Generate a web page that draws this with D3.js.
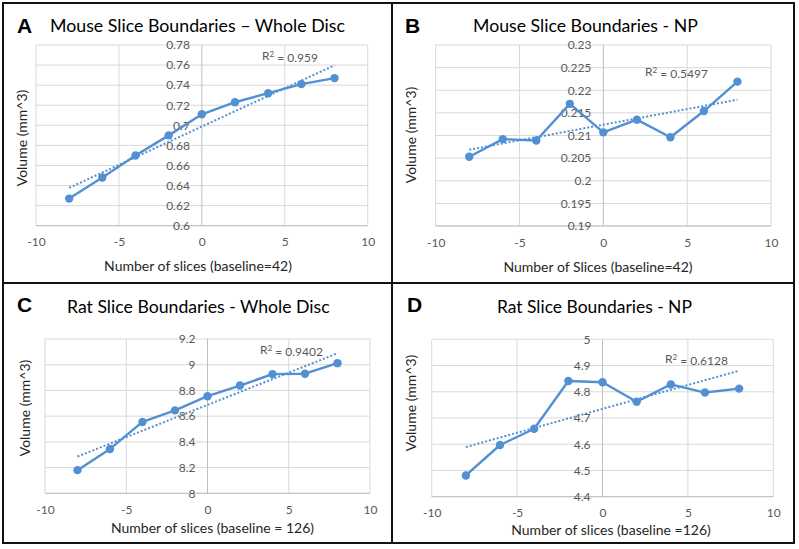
<!DOCTYPE html>
<html><head><meta charset="utf-8">
<script src="https://cdn.jsdelivr.net/npm/d3@7"></script>
<style>body{margin:0;background:#fff}svg{display:block}</style>
</head><body>
<svg id="c" width="799" height="549"></svg>
<script>
// ---- data ----
const slices = [-8,-6,-4,-2,0,2,4,6,8];
const mouseWhole = [0.627,0.648,0.670,0.690,0.711,0.723,0.732,0.741,0.747];
const mouseNP = [0.2053,0.2092,0.2089,0.2170,0.2107,0.2135,0.2096,0.2154,0.2219];
const ratWhole = [8.18,8.345,8.555,8.645,8.755,8.838,8.927,8.93,9.012];
const ratNP = [4.481,4.597,4.659,4.841,4.836,4.762,4.828,4.797,4.812];
const xTicks = [-10,-5,0,5,10];
const yTicksMouseWhole = [0.6,0.62,0.64,0.66,0.68,0.7,0.72,0.74,0.76,0.78];
const yTicksMouseNP = [0.19,0.195,0.2,0.205,0.21,0.215,0.22,0.225,0.23];
const yTicksRatWhole = [8,8.2,8.4,8.6,8.8,9,9.2];
const yTicksRatNP = [4.4,4.5,4.6,4.7,4.8,4.9,5];
const letters = ["A","B","C","D"];
const titles = ["Mouse Slice Boundaries \u2013 Whole Disc","Mouse Slice Boundaries - NP","Rat Slice Boundaries - Whole Disc","Rat Slice Boundaries - NP"];
const xTitles = ["Number of slices (baseline=42)","Number of Slices (baseline=42)","Number of slices (baseline = 126)","Number of slices (baseline =126)"];
const yTitle = "Volume (mm^3)";
const r2Labels = ["0.959","0.5497","0.9402","0.6128"];

const series = [mouseWhole, mouseNP, ratWhole, ratNP];
const yTickSets = [yTicksMouseWhole, yTicksMouseNP, yTicksRatWhole, yTicksRatNP];

// ---- layout ----
const layout = [
  {x0:36, x1:367.7, y0:45, y1:225.7, lx:17, ly:33, tx:50, ty:32, tw:295, xtx:198, xty:271, ytx:22, yty:138, rx:262, ry:56},
  {x0:435.7, x1:771, y0:45, y1:226, lx:405, ly:33, tx:473, ty:32, tw:225, xtx:598, xty:272, ytx:411, yty:135, rx:645, ry:72},
  {x0:45, x1:370, y0:339, y1:493.3, lx:17, ly:312, tx:67, ty:313, tw:263, xtx:212.5, xty:533, ytx:25, yty:408, rx:260, ry:350},
  {x0:431.7, x1:773.3, y0:339.3, y1:496.7, lx:407, ly:312, tx:497, ty:313, tw:195, xtx:611, xty:535, ytx:411, yty:403, rx:665, ry:359}
];

const svg = d3.select("#c");
const FONT = "Lato, 'Open Sans', sans-serif";
const BLUE = "#5290d3";
const GRID = "#d9d9d9";
const TXT = "#595959";

// frame
svg.append("rect").attr("x",3).attr("y",3).attr("width",791).attr("height",540)
  .attr("fill","none").attr("stroke","#111").attr("stroke-width",2);
svg.append("line").attr("x1",392).attr("x2",392).attr("y1",3).attr("y2",543).attr("stroke","#111").attr("stroke-width",2);
svg.append("line").attr("x1",3).attr("x2",794).attr("y1",283).attr("y2",283).attr("stroke","#111").attr("stroke-width",2);

series.forEach((vals, i) => {
  const L = layout[i];
  const yt = yTickSets[i];
  const x = d3.scaleLinear().domain([xTicks[0], xTicks[xTicks.length-1]]).range([L.x0, L.x1]);
  const y = d3.scaleLinear().domain([yt[0], yt[yt.length-1]]).range([L.y1, L.y0]);
  const g = svg.append("g");

  // gridlines
  g.append("g").selectAll("line").data(yt).join("line")
    .attr("x1",L.x0).attr("x2",L.x1).attr("y1",d=>y(d)).attr("y2",d=>y(d))
    .attr("stroke",GRID).attr("stroke-width",1);
  g.append("g").selectAll("line").data(xTicks).join("line")
    .attr("x1",d=>x(d)).attr("x2",d=>x(d)).attr("y1",L.y0).attr("y2",L.y1)
    .attr("stroke",d=>d===0?"#bfbfbf":GRID).attr("stroke-width",1);
  // bottom axis line
  g.append("line").attr("x1",L.x0).attr("x2",L.x1).attr("y1",L.y1).attr("y2",L.y1)
    .attr("stroke","#bfbfbf").attr("stroke-width",1);

  // y tick labels at x = 0
  const yAxis = d3.axisLeft(y).tickValues(yt).tickFormat(d=>String(+d.toFixed(4))).tickSize(0).tickPadding(12);
  const ya = g.append("g").attr("transform",`translate(${x(0)},0)`).call(yAxis);
  ya.select(".domain").remove();
  ya.selectAll("text").attr("font-family",FONT).attr("font-size",12).attr("fill",TXT);

  // x tick labels
  const xAxis = d3.axisBottom(x).tickValues(xTicks).tickFormat(d=>String(d)).tickSize(0).tickPadding(12);
  const xa = g.append("g").attr("transform",`translate(0,${L.y1})`).call(xAxis);
  xa.select(".domain").remove();
  xa.selectAll("text").attr("font-family",FONT).attr("font-size",12).attr("fill",TXT);

  // trendline (least squares)
  const n = slices.length;
  const mx = d3.mean(slices), my = d3.mean(vals);
  const slope = d3.sum(slices.map((s,k)=>(s-mx)*(vals[k]-my))) / d3.sum(slices.map(s=>(s-mx)*(s-mx)));
  const icpt = my - slope*mx;
  const xs = d3.extent(slices);
  g.append("line").attr("x1",x(xs[0])).attr("x2",x(xs[1]))
    .attr("y1",y(icpt+slope*xs[0])).attr("y2",y(icpt+slope*xs[1]))
    .attr("stroke",BLUE).attr("stroke-width",2).attr("stroke-dasharray","2,2");

  // series line + markers
  const pts = slices.map((s,k)=>[s, vals[k]]);
  g.append("path").datum(pts).attr("fill","none").attr("stroke",BLUE).attr("stroke-width",2.4)
    .attr("stroke-linejoin","round")
    .attr("d", d3.line().x(d=>x(d[0])).y(d=>y(d[1])));
  g.append("g").selectAll("circle").data(pts).join("circle")
    .attr("cx",d=>x(d[0])).attr("cy",d=>y(d[1])).attr("r",4.2).attr("fill",BLUE);

  // R² label
  const rt = g.append("text").attr("x",L.rx).attr("y",L.ry).attr("dy","0.35em")
    .attr("font-family",FONT).attr("font-size",12).attr("fill",TXT);
  rt.append("tspan").text("R");
  rt.append("tspan").text("2").attr("font-size",8).attr("dy","-0.45em");
  rt.append("tspan").text(" = " + r2Labels[i]).attr("dy","0.45em");

  // panel letter
  g.append("text").attr("x",L.lx).attr("y",L.ly).text(letters[i])
    .attr("font-family","'Liberation Sans', Arial, sans-serif").attr("font-weight","bold")
    .attr("font-size",21).attr("fill","#000");

  // title (fitted to measured width)
  const t = g.append("text").attr("x",L.tx).attr("y",L.ty).text(titles[i])
    .attr("font-family",FONT).attr("font-size",18).attr("fill","#000");
  const w = t.node().getComputedTextLength();
  t.attr("font-size", 18*L.tw/w);

  // axis titles
  g.append("text").attr("x",L.xtx).attr("y",L.xty).attr("text-anchor","middle").text(xTitles[i])
    .attr("font-family",FONT).attr("font-size",14).attr("fill","#262626");
  g.append("text").attr("transform",`translate(${L.ytx},${L.yty}) rotate(-90)`).attr("dy","0.35em")
    .attr("text-anchor","middle").text(yTitle)
    .attr("font-family",FONT).attr("font-size",14).attr("fill","#262626");
});
</script>
</body></html>
